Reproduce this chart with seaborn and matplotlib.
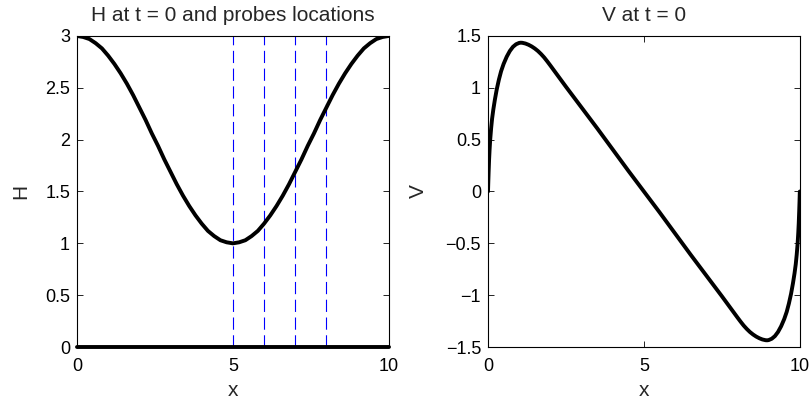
import numpy as np
import pandas as pd
import seaborn as sns
import matplotlib.pyplot as plt
from matplotlib.ticker import FuncFormatter

# ---- H at t = 0 ----
h_x = [0, 0.2, 0.4, 0.6, 0.8, 1.0, 1.2, 1.4, 1.6, 1.8, 2.0, 2.2, 2.4, 2.6, 2.8, 3.0, 3.2, 3.4, 3.6, 3.8,
       4.0, 4.2, 4.4, 4.6, 4.8, 5.0, 5.2, 5.4, 5.6, 5.8, 6.0, 6.2, 6.4, 6.6, 6.8, 7.0, 7.2, 7.4, 7.6, 7.8,
       8.0, 8.2, 8.4, 8.6, 8.8, 9.0, 9.2, 9.4, 9.6, 9.8, 10.0]
h_val = [3.0, 2.99, 2.97, 2.93, 2.88, 2.81, 2.73, 2.64, 2.54, 2.43, 2.31, 2.19, 2.06, 1.94, 1.81, 1.69, 1.57, 1.46, 1.36, 1.27,
         1.19, 1.12, 1.07, 1.03, 1.01, 1.0, 1.01, 1.03, 1.07, 1.12, 1.19, 1.27, 1.36, 1.46, 1.57, 1.69, 1.81, 1.94, 2.06, 2.19,
         2.31, 2.43, 2.54, 2.64, 2.73, 2.81, 2.88, 2.93, 2.97, 2.99, 3.0]

# bottom line (bed) and probe positions
bed_x = [0, 10]
bed_val = [0, 0]
probes = [5, 6, 7, 8]

# ---- V at t = 0 ----
v_x = [0, 0.01, 0.02, 0.035, 0.05, 0.07, 0.1, 0.13, 0.17, 0.22, 0.28, 0.35, 0.42, 0.5, 0.6, 0.7, 0.8, 0.9, 1.0, 1.05,
       1.1, 1.2, 1.3, 1.4, 1.5, 1.6, 1.7, 1.8, 1.9, 2.0, 2.5, 3.0, 3.5, 4.0, 4.5,
       5.0,
       5.5, 6.0, 6.5, 7.0, 7.5, 8.0, 8.1, 8.2, 8.3, 8.4, 8.5, 8.6, 8.7, 8.8, 8.9,
       8.95, 9.0, 9.1, 9.2, 9.3, 9.4, 9.5, 9.58, 9.65, 9.72, 9.78, 9.83, 9.87, 9.9, 9.93, 9.95, 9.965, 9.98, 9.99, 10.0]
v_val = [0, 0.10, 0.19, 0.31, 0.40, 0.50, 0.61, 0.70, 0.79, 0.885, 0.985, 1.08, 1.16, 1.23, 1.30, 1.355, 1.395, 1.42, 1.433, 1.435,
         1.434, 1.427, 1.415, 1.399, 1.379, 1.355, 1.326, 1.293, 1.255, 1.215, 1.01, 0.81, 0.61, 0.405, 0.2,
         0.0,
         -0.2, -0.405, -0.61, -0.81, -1.01, -1.215, -1.255, -1.293, -1.326, -1.355, -1.379, -1.399, -1.415, -1.427, -1.434,
         -1.435, -1.433, -1.42, -1.395, -1.355, -1.30, -1.23, -1.16, -1.08, -0.985, -0.885, -0.79, -0.70, -0.61, -0.50, -0.40, -0.31, -0.19, -0.10, 0]

h_df = pd.DataFrame({"x": h_x, "H": h_val})
v_df = pd.DataFrame({"x": v_x, "V": v_val})

sns.set_style("ticks")
plt.rcParams['font.family'] = ['Liberation Sans', 'DejaVu Sans']
plt.rcParams['font.size'] = 13
plt.rcParams['axes.unicode_minus'] = True


def fmt(v, pos):
    return ('%g' % v).replace('-', '\u2212')


fig = plt.figure(figsize=(8.12, 4.04), dpi=100)
ax1 = fig.add_axes([0.0948, 0.141, 0.384, 0.770])
ax2 = fig.add_axes([0.601, 0.141, 0.384, 0.770])

# left panel
for p in probes:
    ax1.axvline(p, color='blue', lw=0.8, dashes=(11, 5), zorder=1)
sns.lineplot(data=h_df, x="x", y="H", ax=ax1, color='black', lw=2.8, sort=False, zorder=3)
ax1.plot(bed_x, bed_val, color='black', lw=2.8, clip_on=False, zorder=4)
ax1.set_xlim(0, 10)
ax1.set_ylim(0, 3)
ax1.set_yticks([0, 0.5, 1, 1.5, 2, 2.5, 3])
ax1.set_title("H at t = 0 and probes locations", fontsize=15, pad=11)
ax1.set_ylabel("H", fontsize=15, labelpad=11)

# right panel
sns.lineplot(data=v_df, x="x", y="V", ax=ax2, color='black', lw=2.8, sort=False, zorder=3)
ax2.set_xlim(0, 10)
ax2.set_ylim(-1.5, 1.5)
ax2.set_yticks([-1.5, -1, -0.5, 0, 0.5, 1, 1.5])
ax2.set_title("V at t = 0", fontsize=15, pad=11)
ax2.set_ylabel("V", fontsize=15, labelpad=13)

for ax in (ax1, ax2):
    ax.set_xticks([0, 5, 10])
    ax.xaxis.set_major_formatter(FuncFormatter(fmt))
    ax.yaxis.set_major_formatter(FuncFormatter(fmt))
    ax.set_xlabel("x", fontsize=15, labelpad=4)
    ax.tick_params(direction='in', top=True, right=True, length=4, width=0.6,
                   labelsize=13, colors='black')
    ax.tick_params(axis='x', pad=8)
    ax.tick_params(axis='y', pad=5)
    for s in ax.spines.values():
        s.set_linewidth(0.8)
        s.set_color('black')
    if ax.get_legend() is not None:
        ax.get_legend().remove()

fig.savefig("out.png", dpi=100)
